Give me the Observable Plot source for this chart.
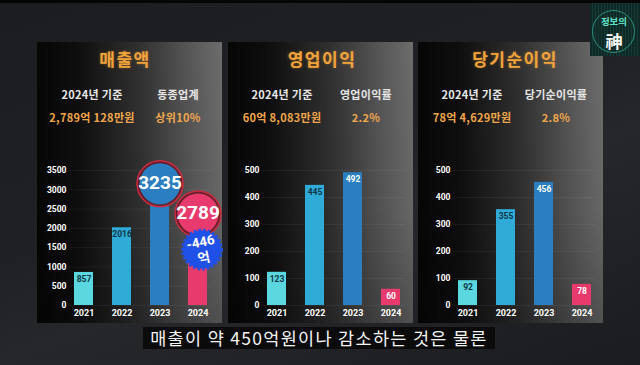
<!DOCTYPE html>
<html><head><meta charset="utf-8">
<script src="https://cdn.jsdelivr.net/npm/d3@7"></script>
<script src="https://cdn.jsdelivr.net/npm/@observablehq/plot@0.6"></script>
<style>
html,body{margin:0;padding:0}
body{width:640px;height:365px;overflow:hidden;position:relative;
  background:linear-gradient(160deg,#1c1d21 0%,#202125 45%,#26272b 60%,#1b1c1f 100%);
  font-family:"Noto Sans CJK KR","Noto Sans",sans-serif}
#topstrip{position:absolute;left:0;top:0;width:640px;height:3px;background:#050505}
.panel{position:absolute;top:42px;height:281px;
  background:linear-gradient(to right,#060606 0%,#0e0e0e 22%,#303030 55%,#5a5a5a 85%,#6c6c6c 100%)}
.panel::after{content:"";position:absolute;left:0;top:0;right:0;bottom:0;
  background:linear-gradient(to bottom,rgba(0,0,0,0) 0%,rgba(0,0,0,0.05) 60%,rgba(0,0,0,0.25) 100%)}
.title{position:absolute;top:46px;font-size:17px;font-weight:bold;color:#f2a43c;
  letter-spacing:1.5px;text-shadow:0 0 3px rgba(240,150,50,0.45);transform:translateX(-50%);white-space:nowrap;z-index:2}
.info{position:absolute;font-size:11px;font-weight:bold;transform:translateX(-50%);white-space:nowrap;z-index:2;letter-spacing:0.3px}
.lbl{color:#e6e6e6}
.val{color:#f0a64c}
.chart{position:absolute;top:150px;z-index:3}
.chart svg{overflow:visible}
#caption{position:absolute;left:143px;top:327px;width:352px;height:22px;background:#0b0b0c;
  color:#f4f4f4;font-size:17.5px;line-height:22px;text-align:center;white-space:nowrap;letter-spacing:1.3px}
#logo{position:absolute;left:590px;top:3px;width:50px;height:53px;
  background:repeating-linear-gradient(to right,#0f2a26 0px,#0f2a26 2px,#173a34 2px,#173a34 3px)}
#logoRing{position:absolute;left:592px;top:10px;width:43px;height:43px;border-radius:50%;
  border:1.5px solid #2c8f7c;box-sizing:border-box}
#logoTop{position:absolute;left:614px;top:14px;transform:translateX(-50%);font-size:9.5px;font-weight:bold;color:#5fe3c6;white-space:nowrap}
#logoBottom{position:absolute;left:614px;top:28px;transform:translateX(-50%);font-size:17px;font-weight:bold;color:#ffffff;white-space:nowrap}
</style></head>
<body>
<div id="topstrip"></div>
<div id="root"></div>
<div id="logo"></div><div id="logoRing"></div>
<div id="logoTop">정보의</div><div id="logoBottom">神</div>
<div id="caption"></div>
<script>
// ---- data ----
const years = ["2021", "2022", "2023", "2024"];
const revenue = [857, 2016, 3235, 2789];
const operatingProfit = [123, 445, 492, 60];
const netProfit = [92, 355, 456, 78];
const titles = ["매출액", "영업이익", "당기순이익"];
const infoLabels = [["2024년 기준", "동종업계"], ["2024년 기준", "영업이익률"], ["2024년 기준", "당기순이익률"]];
const infoValues = [["2,789억 128만원", "상위10%"], ["60억 8,083만원", "2.2%"], ["78억 4,629만원", "2.8%"]];
const revenueTicks = [0, 500, 1000, 1500, 2000, 2500, 3000, 3500];
const profitTicks = [0, 100, 200, 300, 400, 500];
const barColors = ["#5bd7df", "#30aad6", "#2b7ebf", "#e93a6d"];
const labelColors = ["#0e3646", "#0e3646", "#ffffff", "#ffffff"];
const highlightYears = ["2023", "2024"];       // revenue values shown in big circles
const changeLabel = "-446\n억";                // badge on the 2024 revenue bar
const changeAt = 1450;                         // badge anchor on the revenue scale
const captionText = "매출이 약 450억원이나 감소하는 것은 물론";

// ---- layout (styles only) ----
const panels = [
  {left: 37, width: 185, ml: 32, mr: 10, values: revenue, ticks: revenueTicks, max: 3500,
   titleX: 125, infoX: [92, 178]},
  {left: 228, width: 185, ml: 34, mr: 8, values: operatingProfit, ticks: profitTicks, max: 500,
   titleX: 322, infoX: [282, 366]},
  {left: 418, width: 185, ml: 35, mr: 8, values: netProfit, ticks: profitTicks, max: 500,
   titleX: 515, infoX: [472, 556]}
];

const root = document.getElementById("root");
const font = '"Roboto","Noto Sans CJK KR",sans-serif';

panels.forEach((p, i) => {
  const bg = document.createElement("div");
  bg.className = "panel";
  bg.style.left = p.left + "px";
  bg.style.width = p.width + "px";
  root.appendChild(bg);

  const t = document.createElement("div");
  t.className = "title";
  t.style.left = p.titleX + "px";
  t.textContent = titles[i];
  root.appendChild(t);

  [0, 1].forEach(j => {
    const a = document.createElement("div");
    a.className = "info lbl";
    a.style.left = p.infoX[j] + "px";
    a.style.top = "86px";
    a.textContent = infoLabels[i][j];
    root.appendChild(a);
    const b = document.createElement("div");
    b.className = "info val";
    b.style.left = p.infoX[j] + "px";
    b.style.top = "109px";
    b.textContent = infoValues[i][j];
    root.appendChild(b);
  });

  const data = years.map((y, k) => ({year: y, value: p.values[k], color: barColors[k], lc: labelColors[k]}));
  const isRevenue = i === 0;
  const small = isRevenue ? data.filter(d => !highlightYears.includes(d.year)) : data;
  const big = isRevenue ? data.filter(d => highlightYears.includes(d.year)) : [];
  const bigDy = {"2023": 3, "2024": 16};
  const change = isRevenue ? data.filter(d => d.year === "2024") : [];

  const marks = [
    Plot.gridY(p.ticks, {stroke: "#ffffff", strokeOpacity: 0.05}),
    Plot.barY(data, {x: "year", y: "value", fill: "color"}),
    Plot.text(small, {x: "year", y: "value", text: d => String(d.value), fill: "lc", dy: 7,
      lineAnchor: "middle", fontSize: 8.5, fontWeight: "bold"}),
    Plot.axisY({ticks: p.ticks, tickSize: 0, tickPadding: 3, tickFormat: d => String(d), label: null,
      fill: "#ffffff", fontSize: 8.5, fontWeight: "bold"}),
    Plot.axisX({tickSize: 0, tickPadding: 4, label: null, fill: "#ffffff", fontSize: 9, fontWeight: "bold"})
  ];
  if (isRevenue) {
    big.forEach(d => {
      marks.push(
        Plot.dot([d], {x: "year", y: "value", dy: bigDy[d.year], r: 23, fill: "#6a1826", fillOpacity: 0.85,
          stroke: "#c92c40", strokeWidth: 1.5}),
        Plot.dot([d], {x: "year", y: "value", dy: bigDy[d.year], r: 20.5, fill: "color"}),
        Plot.text([d], {x: "year", y: "value", dy: bigDy[d.year] - 1, text: e => String(e.value),
          fill: "#ffffff", fontSize: 19, fontWeight: "bold", lineAnchor: "middle"})
      );
    });
    marks.push(
      Plot.dot(change, {x: "year", y: () => changeAt, dx: 4, r: 19, fill: "#1f50e8",
        stroke: "#1f50e8", strokeWidth: 4, strokeDasharray: "2.5,2"}),
      Plot.text(change, {x: "year", y: () => changeAt, dx: 4, text: () => changeLabel, fill: "#ffffff",
        fontSize: 13.5, fontWeight: "bold", lineHeight: 1.2, lineAnchor: "middle", rotate: -12})
    );
  }

  const chart = Plot.plot({
    width: p.width, height: 175,
    marginLeft: p.ml, marginRight: p.mr, marginTop: 20, marginBottom: 20,
    style: {background: "transparent", color: "#ffffff", fontFamily: font, overflow: "visible"},
    x: {domain: years, paddingInner: 0.5, paddingOuter: 0.1},
    y: {domain: [0, p.max]},
    marks
  });
  const wrap = document.createElement("div");
  wrap.className = "chart";
  wrap.style.left = p.left + "px";
  wrap.appendChild(chart);
  root.appendChild(wrap);
});

document.getElementById("caption").textContent = captionText;
</script>
</body></html>
